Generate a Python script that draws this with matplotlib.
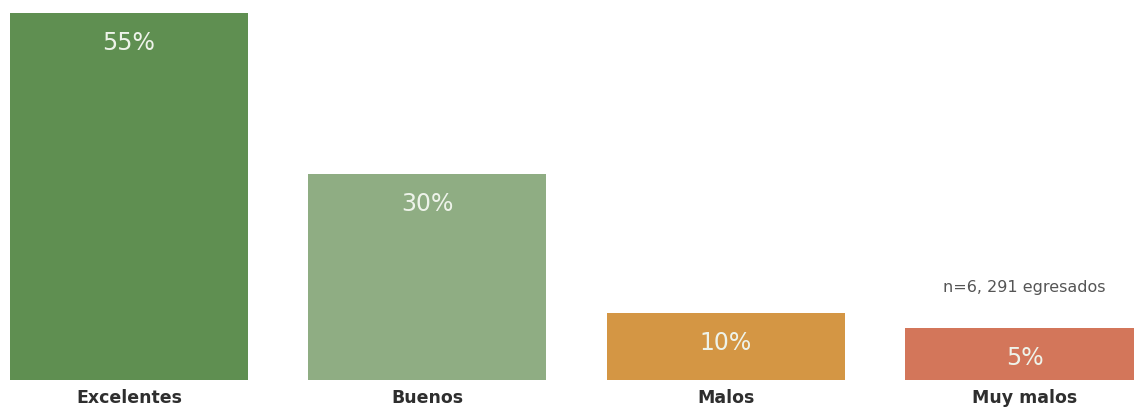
import matplotlib.pyplot as plt
import numpy as np

categorias = ['Excelentes', 'Buenos', 'Malos', 'Muy malos']
porcentajes = [55, 30, 10, 5]
# altura de las barras tal como se ven en la imagen (escala 0-55)
alturas = [55, 30.9, 10, 7.8]
colores = ['#5f8f51', '#8fad83', '#d49644', '#d3765a']
nota = 'n=6, 291 egresados'

plt.rcParams['font.family'] = ['DejaVu Sans']

fig = plt.figure(figsize=(11.34, 4.11), dpi=100)
ax = fig.add_axes([0, 31/411, 1, 380/411])

x = np.arange(len(categorias))
barras = ax.bar(x, alturas, width=0.797, color=colores)

for b, h, v in zip(barras, alturas, porcentajes):
    ax.annotate('%d%%' % v, (b.get_x() + b.get_width()/2, h),
                xytext=(0, -30), textcoords='offset pixels',
                ha='center', va='center', fontsize=17, color='#eef3ea')

for xi, cat in zip(x, categorias):
    ax.annotate(cat, (xi, 0), xytext=(0, -18), textcoords='offset pixels',
                ha='center', va='center', fontsize=12.5, color='#2e2e2e',
                fontweight='bold', annotation_clip=False)

ax.annotate(nota, (x[-1], alturas[-1]), xytext=(0, 40), textcoords='offset pixels',
            ha='center', va='center', fontsize=11.5, color='#555555')

ax.set_xlim(-0.432, 3.367)
ax.set_ylim(0, 55*380/367)
ax.axis('off')

fig.savefig('out.png', dpi=100)
